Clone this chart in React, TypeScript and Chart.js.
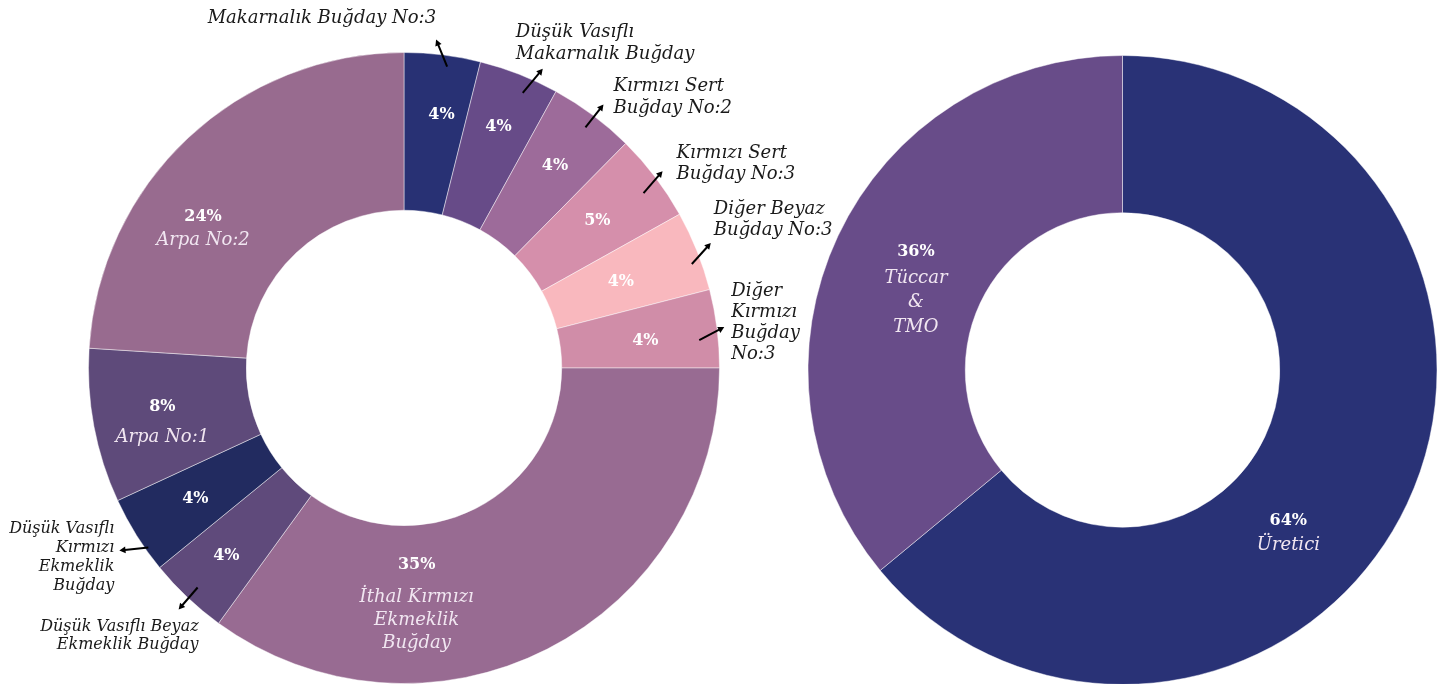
import React, { useEffect, useRef } from "react";
import { Chart, registerables } from "chart.js";

Chart.register(...registerables);

// ---------- DATA ----------
const leftCategories = [
  "Makarnalık Buğday No:3",
  "Düşük Vasıflı Makarnalık Buğday",
  "Kırmızı Sert Buğday No:2",
  "Kırmızı Sert Buğday No:3",
  "Diğer Beyaz Buğday No:3",
  "Diğer Kırmızı Buğday No:3",
  "İthal Kırmızı Ekmeklik Buğday",
  "Düşük Vasıflı Beyaz Ekmeklik Buğday",
  "Düşük Vasıflı Kırmızı Ekmeklik Buğday",
  "Arpa No:1",
  "Arpa No:2",
];
const leftValues = [3.9, 4.1, 4.4, 4.5, 4.1, 4.0, 35, 4.1, 4.0, 7.9, 24];
const leftLabelLines = [
  ["Makarnalık Buğday No:3"],
  ["Düşük Vasıflı", "Makarnalık Buğday"],
  ["Kırmızı Sert", "Buğday No:2"],
  ["Kırmızı Sert", "Buğday No:3"],
  ["Diğer Beyaz", "Buğday No:3"],
  ["Diğer", "Kırmızı", "Buğday", "No:3"],
  ["İthal Kırmızı", "Ekmeklik", "Buğday"],
  ["Düşük Vasıflı Beyaz", "Ekmeklik Buğday"],
  ["Düşük Vasıflı", "Kırmızı", "Ekmeklik", "Buğday"],
  ["Arpa No:1"],
  ["Arpa No:2"],
];
const leftColors = [
  "#283174", "#674b88", "#9d6b9a", "#d58fab", "#f9b8be", "#d08da8",
  "#986b92", "#5f4a7b", "#222b60", "#5e4a7a", "#986b8f",
];

const rightCategories = ["Üretici", "Tüccar & TMO"];
const rightValues = [64, 36];
const rightLabelLines = [["Üretici"], ["Tüccar", "&", "TMO"]];
const rightColors = ["#293276", "#684c89"];

// ---------- LABEL LAYOUT ----------
type LabelStyle = {
  mode: "in" | "out";
  frac?: number; // label position along slice (0..1)
  rad?: number; // label radius fraction of outer radius
  gap?: number;
  lh?: number;
  // callout
  afrac?: number; // arrow start position along slice
  arad?: number; // arrow start radius fraction
  vx?: number; // arrow vector
  vy?: number;
  dx?: number; // text offset from arrow tip
  dy?: number;
  align?: "left" | "right";
  fs?: number;
};

const leftLayout: LabelStyle[] = [
  { mode: "out", frac: 0.6, rad: 0.81, afrac: 0.58, arad: 0.965, vx: -11, vy: -27, dx: 0, dy: -21.5, align: "right", fs: 18, lh: 22 },
  { mode: "out", frac: 0.5, rad: 0.82, afrac: 0.63, arad: 0.95, vx: 20, vy: -24, dx: -27, dy: -36, align: "left", fs: 18, lh: 21.5 },
  { mode: "out", frac: 0.5, rad: 0.8, afrac: 0.52, arad: 0.955, vx: 18, vy: -23, dx: 10, dy: -18, align: "left", fs: 18, lh: 22 },
  { mode: "out", frac: 0.5, rad: 0.77, afrac: 0.57, arad: 0.94, vx: 19, vy: -22, dx: 14, dy: -18, align: "left", fs: 18, lh: 21 },
  { mode: "out", frac: 0.5, rad: 0.74, afrac: 0.63, arad: 0.97, vx: 19, vy: -21, dx: 3, dy: -34, align: "left", fs: 18, lh: 21 },
  { mode: "out", frac: 0.55, rad: 0.77, afrac: 0.625, arad: 0.94, vx: 25, vy: -13, dx: 7, dy: -36, align: "left", fs: 18, lh: 21 },
  { mode: "in", frac: 0.69, rad: 0.75, gap: 32, lh: 23 },
  { mode: "out", frac: 0.5, rad: 0.82, afrac: 0.49, arad: 0.955, vx: -19, vy: 22, dx: 20, dy: 17, align: "right", fs: 16, lh: 18 },
  { mode: "out", frac: 0.5, rad: 0.78, afrac: 0.29, arad: 0.99, vx: -29, vy: 3, dx: -5, dy: -22, align: "right", fs: 16, lh: 19 },
  { mode: "in", frac: 0.43, rad: 0.785, gap: 31, lh: 23 },
  { mode: "in", frac: 0.36, rad: 0.775, gap: 24, lh: 23 },
];

const rightLayout: LabelStyle[] = [
  { mode: "in", frac: 0.584, rad: 0.74, gap: 25, lh: 25 },
  { mode: "in", frac: 0.47, rad: 0.705, gap: 26, lh: 24.5 },
];

const SERIF = "'DejaVu Serif', serif";

function makeLabelPlugin(lines: string[][], layout: LabelStyle[]) {
  return {
    id: "customLabels",
    afterDatasetsDraw(chart: any) {
      const ctx = chart.ctx as CanvasRenderingContext2D;
      const meta = chart.getDatasetMeta(0);
      const data = chart.data.datasets[0].data as number[];
      const total = data.reduce((a, b) => a + b, 0);
      meta.data.forEach((arc: any, i: number) => {
        const p = arc.getProps(["x", "y", "startAngle", "endAngle", "outerRadius"], true);
        const L = layout[i];
        const span = p.endAngle - p.startAngle;
        const a = p.startAngle + (L.frac ?? 0.5) * span;
        const r = (L.rad ?? 0.77) * p.outerRadius;
        const px = p.x + r * Math.cos(a);
        const py = p.y + r * Math.sin(a);
        const pct = Math.round((data[i] / total) * 100) + "%";
        ctx.save();
        ctx.textAlign = "center";
        ctx.textBaseline = "middle";
        if (L.mode === "in") {
          const names = lines[i];
          const gap = L.gap ?? 26;
          const lh = L.lh ?? 23;
          const blockH = gap + (names.length - 1) * lh;
          let y = py - blockH / 2;
          ctx.fillStyle = "#ffffff";
          ctx.font = `bold 16px ${SERIF}`;
          ctx.fillText(pct, px, y);
          ctx.fillStyle = "#f1e6f1";
          ctx.font = `italic 18px ${SERIF}`;
          y += gap;
          names.forEach((t) => {
            ctx.fillText(t, px, y);
            y += lh;
          });
        } else {
          ctx.fillStyle = "#ffffff";
          ctx.font = `bold 16px ${SERIF}`;
          ctx.fillText(pct, px, py);
          // arrow
          const aa = p.startAngle + (L.afrac ?? 0.5) * span;
          const ar = (L.arad ?? 0.95) * p.outerRadius;
          const x1 = p.x + ar * Math.cos(aa);
          const y1 = p.y + ar * Math.sin(aa);
          const x2 = x1 + (L.vx ?? 0);
          const y2 = y1 + (L.vy ?? 0);
          const ang = Math.atan2(y2 - y1, x2 - x1);
          const hs = 7;
          ctx.strokeStyle = "#000000";
          ctx.fillStyle = "#000000";
          ctx.lineWidth = 2;
          ctx.beginPath();
          ctx.moveTo(x1, y1);
          ctx.lineTo(x2 - 3 * Math.cos(ang), y2 - 3 * Math.sin(ang));
          ctx.stroke();
          ctx.beginPath();
          ctx.moveTo(x2, y2);
          ctx.lineTo(x2 - hs * Math.cos(ang - 0.5), y2 - hs * Math.sin(ang - 0.5));
          ctx.lineTo(x2 - hs * Math.cos(ang + 0.5), y2 - hs * Math.sin(ang + 0.5));
          ctx.closePath();
          ctx.fill();
          // text
          ctx.fillStyle = "#1a1a1a";
          ctx.font = `italic ${L.fs ?? 16}px ${SERIF}`;
          ctx.textAlign = L.align ?? "left";
          let ty = y2 + (L.dy ?? 0);
          const tx = x2 + (L.dx ?? 0);
          lines[i].forEach((t) => {
            ctx.fillText(t, tx, ty);
            ty += L.lh ?? 21;
          });
        }
        ctx.restore();
      });
    },
  };
}

function Doughnut(props: {
  categories: string[];
  values: number[];
  colors: string[];
  lines: string[][];
  layout: LabelStyle[];
  width: number;
  height: number;
  padding: { left: number; right: number; top: number; bottom: number };
  style: React.CSSProperties;
}) {
  const ref = useRef<HTMLCanvasElement | null>(null);
  useEffect(() => {
    if (!ref.current) return;
    const chart = new Chart(ref.current, {
      type: "doughnut",
      data: {
        labels: props.categories,
        datasets: [
          {
            data: props.values,
            backgroundColor: props.colors,
            borderColor: "rgba(255,255,255,0.45)",
            borderWidth: 1,
          },
        ],
      },
      options: {
        responsive: false,
        animation: false,
        cutout: "50%",
        layout: { padding: props.padding },
        plugins: {
          legend: { display: false },
          tooltip: { enabled: false },
        },
      },
      plugins: [makeLabelPlugin(props.lines, props.layout)],
    });
    return () => chart.destroy();
  }, []);
  return (
    <canvas
      ref={ref}
      width={props.width}
      height={props.height}
      style={{ position: "absolute", display: "block", width: props.width, height: props.height, ...props.style }}
    />
  );
}

export default function App() {
  return (
    <div
      style={{
        position: "fixed",
        left: 0,
        top: 0,
        width: 1448,
        height: 684,
        overflow: "hidden",
        background: "#ffffff",
      }}
    >
      <Doughnut
        categories={rightCategories}
        values={rightValues}
        colors={rightColors}
        lines={rightLabelLines}
        layout={rightLayout}
        width={648}
        height={700}
        padding={{ left: 7, right: 10, top: 55, bottom: 15 }}
        style={{ left: 800, top: 0, zIndex: 1 }}
      />
      <Doughnut
        categories={leftCategories}
        values={leftValues}
        colors={leftColors}
        lines={leftLabelLines}
        layout={leftLayout}
        width={850}
        height={684}
        padding={{ left: 88, right: 130, top: 52, bottom: 0 }}
        style={{ left: 0, top: 0, zIndex: 2 }}
      />
    </div>
  );
}
